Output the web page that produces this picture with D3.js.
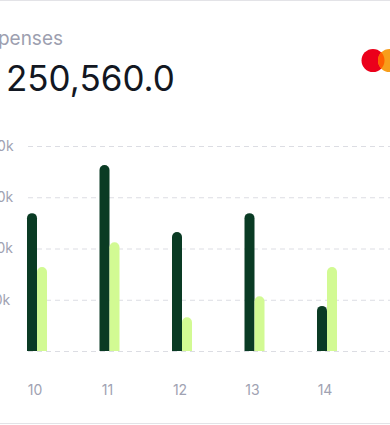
<!DOCTYPE html>
<html>
<head>
<meta charset="utf-8">
<script src="https://cdn.jsdelivr.net/npm/d3@7"></script>
<style>
  html, body { margin: 0; padding: 0; background: #ffffff; overflow: hidden; }
  svg { display: block; font-family: Inter, "Noto Sans", sans-serif; }
</style>
</head>
<body>
<svg id="graphic-svg" width="390" height="425"></svg>
<script>
// Data (values in thousands)
var days = [10, 11, 12, 13, 14];
var spent = [26.9, 36.3, 23.2, 26.9, 8.8];
var received = [16.4, 21.2, 6.6, 10.7, 16.4];
var gridTicks = [0, 10, 20, 30, 40];
var yTicks = [10, 20, 30, 40];
var yTickLabels = ["10k", "20k", "30k", "40k"];
var title = "Expenses";
var currency = "$";
var total = "250,560.0";

var svg = d3.select("#graphic-svg");
var margin = { left: 28, right: 0, top: 146, bottom: 351 };
var barW = 10;

// Colors
var dark_green = "#0a3b24";
var light_green = "#d2fa93";
var grid_gray = "#dcdde3";
var label_gray = "#a0a2b2";

// Scales
var xScale = d3.scalePoint()
               .domain(days)
               .range([37, 327]);
var yScale = d3.scaleLinear()
               .domain([0, 40])
               .range([margin.bottom, margin.top]);

// rounded-top bar
function barPath(x, v) {
  var y = yScale(v), y0 = yScale(0), r = barW / 2;
  return "M" + x + "," + y0 + "V" + (y + r) +
         "A" + r + "," + r + " 0 0 1 " + (x + barW) + "," + (y + r) +
         "V" + y0 + "Z";
}

// Card border
svg.append("rect")
   .attr("x", -20).attr("y", 0.5)
   .attr("width", 430).attr("height", 423)
   .attr("rx", 12)
   .style("fill", "none")
   .style("stroke", "#e3e3e7");

// Header
svg.append("text")
   .text(title)
   .attr("x", 63)
   .attr("y", 45)
   .style("text-anchor", "end")
   .style("font-size", "19px")
   .style("fill", "#9d9fb0");

// amount: currency sign sits just off the left edge
svg.append("text")
   .attr("x", 6)
   .attr("y", 91)
   .style("font-size", "35px")
   .style("fill", "#121722")
   .call(function(t) {
     t.append("tspan").attr("x", -4).style("text-anchor", "end").text(currency);
     t.append("tspan").attr("x", 6).text(total);
   });

// Card logo
var logo = svg.append("g").attr("transform", "translate(373,60.5)");
svg.append("clipPath").attr("id", "redClip")
   .append("circle").attr("cx", 373).attr("cy", 60.5).attr("r", 11.5);
logo.append("circle").attr("r", 11.5).style("fill", "#eb001b");
logo.append("circle").attr("cx", 16.5).attr("r", 11.5).style("fill", "#f79e1b");
svg.append("circle")
   .attr("cx", 389.5).attr("cy", 60.5).attr("r", 11.5)
   .attr("clip-path", "url(#redClip)")
   .style("fill", "#ff5f00");

// Grid
svg.selectAll(".grid")
   .data(gridTicks)
   .enter()
   .append("line")
   .attr("class", "grid")
   .attr("x1", margin.left)
   .attr("x2", 400)
   .attr("y1", function(d) { return yScale(d) + 0.5; })
   .attr("y2", function(d) { return yScale(d) + 0.5; })
   .style("stroke", grid_gray)
   .style("stroke-width", 1)
   .style("stroke-dasharray", "5,4");

svg.selectAll(".yLabel")
   .data(yTicks)
   .enter()
   .append("text")
   .attr("class", "yLabel")
   .text(function(d, i) { return yTickLabels[i]; })
   .attr("x", -12)
   .attr("y", function(d) { return yScale(d); })
   .attr("dy", "0.35em")
   .style("text-anchor", "start")
   .style("font-size", "14px")
   .style("fill", label_gray);

// Bars
var group = svg.selectAll(".dayGroup")
               .data(days)
               .enter()
               .append("g")
               .attr("class", "dayGroup");
group.append("path")
     .attr("d", function(d, i) { return barPath(xScale(d) - barW, spent[i]); })
     .style("fill", dark_green);
group.append("path")
     .attr("d", function(d, i) { return barPath(xScale(d), received[i]); })
     .style("fill", light_green);
group.append("text")
     .text(function(d) { return d; })
     .attr("x", function(d) { return xScale(d) - 2; })
     .attr("y", 395)
     .style("text-anchor", "middle")
     .style("font-size", "14px")
     .style("fill", label_gray);
</script>
</body>
</html>
